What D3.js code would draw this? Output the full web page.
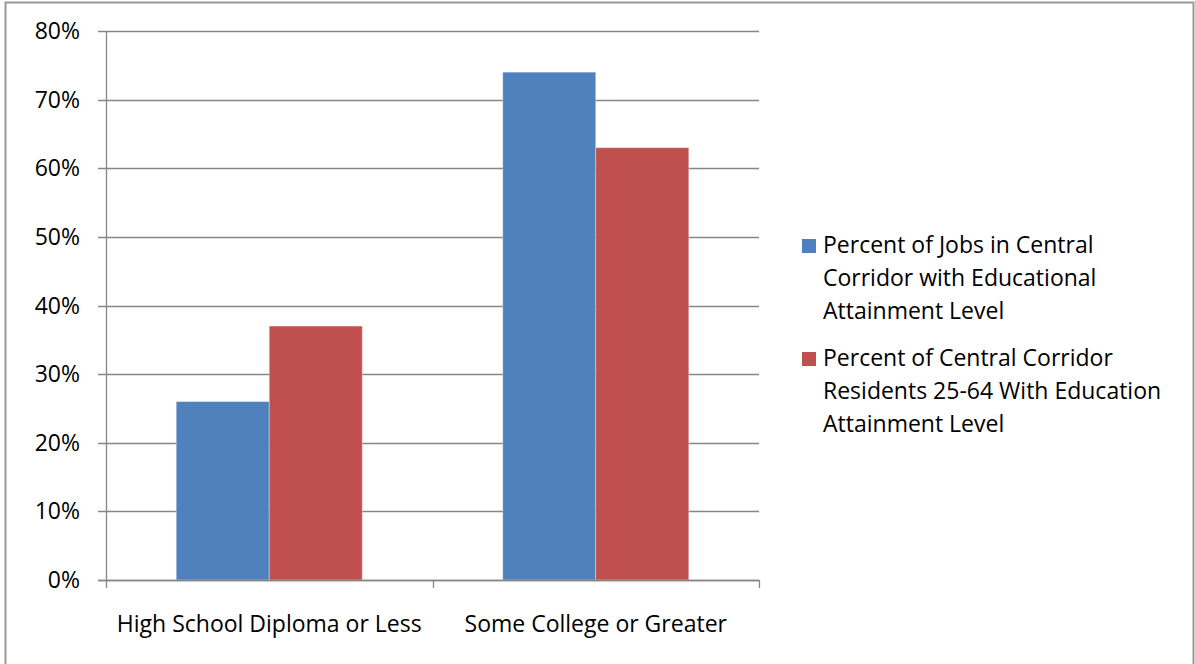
<!DOCTYPE html>
<html lang="en">
<head>
  <meta charset="UTF-8">
  <title>education-attainment</title>
  <script type="text/javascript" src="https://cdn.jsdelivr.net/npm/d3@7"></script>
  <style>
    body { margin: 0; background: #fff; }
    text { font-family: "Open Sans", "Liberation Sans", sans-serif; fill: #000; }
  </style>
</head>
<body>
<div id="chart"></div>
<script type="text/javascript">
    // data
    let categories = ["High School Diploma or Less", "Some College or Greater"];
    let seriesNames = [
        ["Percent of Jobs in Central", "Corridor with Educational", "Attainment Level"],
        ["Percent of Central Corridor", "Residents 25-64 With Education", "Attainment Level"]
    ];
    let jobsValues = [0.26, 0.74];
    let residentValues = [0.37, 0.63];
    let yTicks = [0, 0.1, 0.2, 0.3, 0.4, 0.5, 0.6, 0.7, 0.8];
    let colors = ["#4F81BD", "#C0504D"];

    let width = 1195, height = 664;
    let svg = d3.select("#chart").append("svg").attr("width", width).attr("height", height);

    // outer frame
    svg.append("rect").attr("x", 5.5).attr("y", 2.5)
        .attr("width", 1188).attr("height", 680)
        .attr("fill", "none").attr("stroke", "#999").attr("stroke-width", 2);

    let plot = {left: 106, right: 759, top: 31, bottom: 580};
    let fs = 23;

    let y = d3.scaleLinear().domain([0, 0.8]).range([plot.bottom, plot.top]);
    let x0 = d3.scaleBand().domain(categories).range([plot.left, plot.right]).paddingInner(0).paddingOuter(0);
    let x1 = d3.scaleBand().domain([0, 1]).range([0, x0.bandwidth()]).paddingInner(0).paddingOuter(0.755);

    // gridlines + y ticks
    let g = svg.append("g");
    g.selectAll("line.grid").data(yTicks).enter().append("line")
        .attr("x1", plot.left - 8).attr("x2", plot.right)
        .attr("y1", d => Math.round(y(d)) + 0.5).attr("y2", d => Math.round(y(d)) + 0.5)
        .attr("stroke", "#868686").attr("stroke-width", 1.3);
    g.selectAll("text.ytick").data(yTicks).enter().append("text")
        .attr("x", 80).attr("y", d => y(d) + 8)
        .attr("text-anchor", "end").attr("font-size", fs)
        .text(d3.format(".0%"));

    // bars
    let series = [jobsValues, residentValues];
    series.forEach(function (vals, si) {
        svg.append("g").selectAll("rect").data(categories).enter().append("rect")
            .attr("x", (c) => x0(c) + x1(si))
            .attr("y", (c, i) => y(vals[i]))
            .attr("width", x1.bandwidth())
            .attr("height", (c, i) => plot.bottom - y(vals[i]))
            .attr("fill", colors[si])
            .attr("stroke", "rgba(255,255,255,0.35)").attr("stroke-width", 1);
    });

    // axes lines
    svg.append("line").attr("x1", plot.left + 0.5).attr("x2", plot.left + 0.5)
        .attr("y1", plot.top).attr("y2", plot.bottom + 8)
        .attr("stroke", "#868686").attr("stroke-width", 1.3);
    svg.append("line").attr("x1", plot.left - 8).attr("x2", plot.right)
        .attr("y1", plot.bottom + 0.5).attr("y2", plot.bottom + 0.5)
        .attr("stroke", "#868686").attr("stroke-width", 1.3);
    let catEdges = categories.map(c => x0(c) + x0.bandwidth());
    svg.append("g").selectAll("line").data(catEdges).enter().append("line")
        .attr("x1", d => Math.round(d) + 0.5).attr("x2", d => Math.round(d) + 0.5)
        .attr("y1", plot.bottom).attr("y2", plot.bottom + 8)
        .attr("stroke", "#868686").attr("stroke-width", 1.3);

    svg.append("g").selectAll("text").data(categories).enter().append("text")
        .attr("x", c => x0(c) + x0.bandwidth() / 2).attr("y", 632)
        .attr("text-anchor", "middle").attr("font-size", fs)
        .text(c => c);

    // legend
    let legend = svg.append("g");
    seriesNames.forEach(function (lines, si) {
        let top = 253 + si * 113;
        legend.append("rect").attr("x", 802).attr("y", top - 14)
            .attr("width", 14).attr("height", 14).attr("fill", colors[si]);
        legend.append("g").selectAll("text").data(lines).enter().append("text")
            .attr("x", 823).attr("y", (d, i) => top + i * 33)
            .attr("font-size", fs)
            .text(d => d);
    });
</script>
</body>
</html>
